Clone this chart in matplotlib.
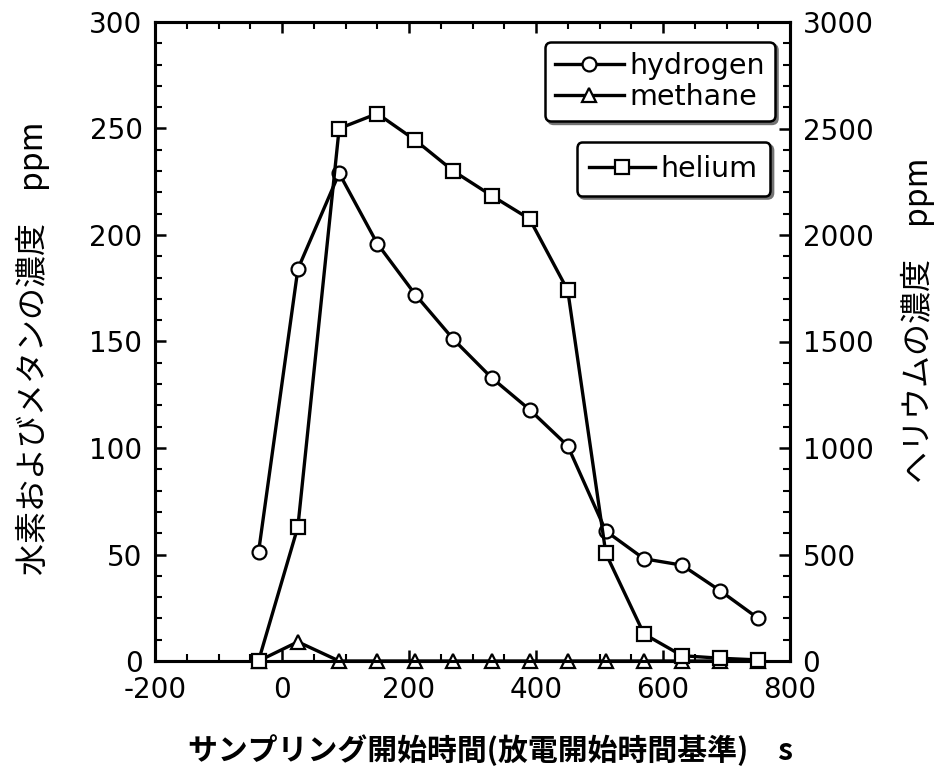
import matplotlib
matplotlib.use("Agg")
import matplotlib.pyplot as plt
from matplotlib.ticker import MultipleLocator

# Sampling start time relative to discharge start (s)
time_s = [-37, 25, 90, 150, 210, 270, 330, 390, 450, 510, 570, 630, 690, 750]
# Concentrations (ppm)
hydrogen = [51, 184, 229, 196, 172, 151, 133, 118, 101, 61, 48, 45, 33, 20]
methane = [0, 9, 0, 0, 0, 0, 0, 0, 0, 0, 0, 0, 0, 0]
helium = [0, 630, 2500, 2570, 2445, 2300, 2185, 2075, 1740, 505, 127, 25, 13, 5]

series_labels = ["hydrogen", "methane", "helium"]
xlabel = "サンプリング開始時間(放電開始時間基準)　s"
ylabel_left = "水素およびメタンの濃度　ppm"
ylabel_right = "ヘリウムの濃度　ppm"

plt.rcParams["font.family"] = ["DejaVu Sans"]
plt.rcParams["axes.unicode_minus"] = False
jp_font = ["Noto Sans CJK JP", "DejaVu Sans"]

fig = plt.figure(figsize=(9.39, 7.73), dpi=100)
ax = fig.add_axes([155 / 939, 112 / 773, 635 / 939, 639 / 773])
ax2 = ax.twinx()

line_kw = dict(color="black", lw=2.4, markersize=10, markerfacecolor="white",
               markeredgecolor="black", markeredgewidth=1.6, clip_on=False)
h_line, = ax.plot(time_s, hydrogen, marker="o", zorder=4, **line_kw)
m_line, = ax.plot(time_s, methane, marker="^", zorder=4, **line_kw)
he_line, = ax2.plot(time_s, helium, marker="s", zorder=4, **line_kw)

ax.set_xlim(-200, 800)
ax.set_ylim(0, 300)
ax2.set_ylim(0, 3000)

ax.xaxis.set_major_locator(MultipleLocator(200))
ax.xaxis.set_minor_locator(MultipleLocator(50))
ax.yaxis.set_major_locator(MultipleLocator(50))
ax.yaxis.set_minor_locator(MultipleLocator(10))
ax2.yaxis.set_major_locator(MultipleLocator(500))
ax2.yaxis.set_minor_locator(MultipleLocator(100))

for a in (ax, ax2):
    for s in a.spines.values():
        s.set_linewidth(2.2)
ax.tick_params(axis="x", which="both", direction="in", top=True, labelsize=20, pad=11)
ax.tick_params(axis="y", which="both", direction="in", labelsize=20, pad=9)
ax2.tick_params(axis="y", which="both", direction="in", labelsize=20, pad=9)
for a in (ax, ax2):
    a.tick_params(which="major", length=8, width=1.8)
    a.tick_params(which="minor", length=5, width=1.5)

fig.text(33 / 939, 1 - 348 / 773, ylabel_left, rotation=90, fontsize=23,
         family=jp_font, ha="center", va="center")
fig.text(918 / 939, 1 - 320 / 773, ylabel_right, rotation=90, fontsize=23,
         family=jp_font, ha="center", va="center")
fig.text(491 / 939, 1 - 750 / 773, xlabel, fontsize=21.5, family=jp_font,
         weight="bold", ha="center", va="center")

shadow = {"color": "0.45", "alpha": 1.0}
leg1 = ax2.legend([h_line, m_line], series_labels[:2], loc="upper right",
                  bbox_to_anchor=(0.976, 0.969), fontsize=20.5, frameon=True,
                  fancybox=True, shadow=shadow, handlelength=2.4,
                  handletextpad=0.2, labelspacing=0.12, borderpad=0.35,
                  borderaxespad=0.0)
leg1.get_frame().set_edgecolor("black")
leg1.get_frame().set_linewidth(1.8)
leg1.get_frame().set_alpha(1)
ax2.add_artist(leg1)

leg2 = ax2.legend([he_line], series_labels[2:], loc="upper right",
                  bbox_to_anchor=(0.969, 0.812), fontsize=20.5, frameon=True,
                  fancybox=True, shadow=shadow, handlelength=2.3,
                  handletextpad=0.2, borderpad=0.45, borderaxespad=0.0)
leg2.get_frame().set_edgecolor("black")
leg2.get_frame().set_linewidth(1.8)
leg2.get_frame().set_alpha(1)

fig.savefig("out.png", dpi=100)
